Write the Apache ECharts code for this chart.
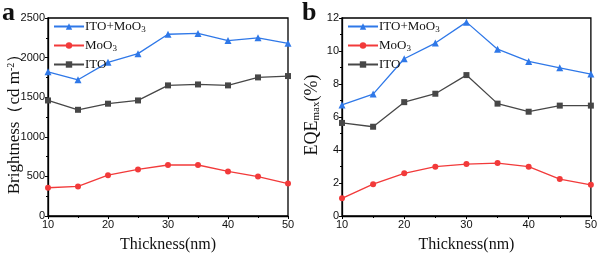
<!DOCTYPE html>
<html><head><meta charset="utf-8">
<script src="https://cdn.jsdelivr.net/npm/echarts@6/dist/echarts.min.js"></script>
<style>html,body{margin:0;padding:0;background:#fff}#c{width:600px;height:258px}</style>
</head><body><div id="c"></div>
<script>
const thickness = [10, 15, 20, 25, 30, 35, 40, 45, 50];
const brightItoMoo3 = [1820, 1720, 1940, 2050, 2295, 2305, 2215, 2250, 2180];
const brightMoo3 = [357, 373, 515, 588, 644, 644, 563, 498, 409];
const brightIto = [1459, 1341, 1418, 1459, 1649, 1661, 1649, 1750, 1767];
const eqeItoMoo3 = [6.73, 7.39, 9.53, 10.48, 11.75, 10.11, 9.37, 8.98, 8.6];
const eqeMoo3 = [1.07, 1.93, 2.59, 2.99, 3.15, 3.21, 2.99, 2.24, 1.89];
const eqeIto = [5.64, 5.41, 6.9, 7.41, 8.54, 6.81, 6.32, 6.69, 6.69];
const seriesNames = ['ITO+MoO3', 'MoO3', 'ITO'];

const colors = {'ITO+MoO3': '#2f78e8', 'MoO3': '#f23a3a', 'ITO': '#474747'};
const symbols = {'ITO+MoO3': 'triangle', 'MoO3': 'circle', 'ITO': 'rect'};
const symSize = {'ITO+MoO3': 7, 'MoO3': 6, 'ITO': 6};
const serif = '"Liberation Serif","Times New Roman",serif';
const sans = '"Liberation Sans",Arial,sans-serif';

function pairs(arr){ return thickness.map((t,i)=>[t, arr[i]]); }
function mkSeries(name, arr, idx){
  return {name, type:'line', xAxisIndex:idx, yAxisIndex:idx, data:pairs(arr),
    symbol:symbols[name], symbolSize:symSize[name], showSymbol:true,
    lineStyle:{color:colors[name], width:1.3}, itemStyle:{color:colors[name]},
    animation:false};
}
const legendRich = {s:{fontFamily:serif, fontSize:9, verticalAlign:'bottom', padding:[6,0,0,0], color:'#111'}};
function legendFmt(n){ return n.replace('MoO3','MoO{s|3}'); }
function mkLegend(idx, left){
  return {data:seriesNames, orient:'vertical', left:left, top:15, itemGap:5,
    itemWidth:30, itemHeight:8, formatter:legendFmt,
    textStyle:{fontFamily:serif, fontSize:13, color:'#111', rich:legendRich, padding:[0,0,0,-4]},
    selectedMode:false};
}
function xAx(idx){
  return {type:'value', gridIndex:idx, min:10, max:50, interval:10,
    name:'Thickness(nm)', nameLocation:'middle', nameGap:21,
    nameTextStyle:{fontFamily:serif, fontSize:16, color:'#111'},
    axisLine:{lineStyle:{color:'#000', width:1.3}},
    axisTick:{inside:false, length:3, lineStyle:{color:'#000'}},
    minorTick:{show:true, splitNumber:2, length:2, lineStyle:{color:'#000'}},
    axisLabel:{fontFamily:sans, fontSize:11, color:'#111', margin:3},
    splitLine:{show:false}};
}
function yAx(idx, max, interval){
  return {type:'value', gridIndex:idx, min:0, max:max, interval:interval,
    axisLine:{show:true, lineStyle:{color:'#000', width:1.3}},
    axisTick:{show:true, inside:false, length:3, lineStyle:{color:'#000'}},
    minorTick:{show:true, splitNumber:2, length:2, lineStyle:{color:'#000'}},
    axisLabel:{fontFamily:sans, fontSize:11, color:'#111', margin:3, formatter:v=>String(v)},
    splitLine:{show:false}};
}
const chart = echarts.init(document.getElementById('c'), null, {renderer:'canvas'});
chart.setOption({
  backgroundColor:'#fff',
  animation:false,
  grid:[
    {left:48, right:312, top:18, bottom:34, show:true, borderColor:'#000', borderWidth:1.3},
    {left:342, right:7, top:18, bottom:34, show:true, borderColor:'#000', borderWidth:1.3}
  ],
  xAxis:[xAx(0), xAx(1)],
  yAxis:[yAx(0, 2500, 500), yAx(1, 12, 2)],
  legend:[mkLegend(0, 48), mkLegend(1, 342)],
  series:[
    mkSeries('ITO+MoO3', brightItoMoo3, 0),
    mkSeries('MoO3', brightMoo3, 0),
    mkSeries('ITO', brightIto, 0),
    mkSeries('ITO+MoO3', eqeItoMoo3, 1),
    mkSeries('MoO3', eqeMoo3, 1),
    mkSeries('ITO', eqeIto, 1)
  ],
  graphic:[
    {type:'text', left:2, top:0, style:{text:'a', font:'bold 26px '+serif, fill:'#111'}},
    {type:'text', left:302, top:0, style:{text:'b', font:'bold 26px '+serif, fill:'#111'}},
    {type:'text', x:15, y:120, rotation:Math.PI/2,
      style:{text:'Brightness（cd m{sup|-2}）', fontFamily:serif, fontSize:17, fill:'#111',
        align:'center', verticalAlign:'middle',
        rich:{sup:{fontFamily:serif, fontSize:10, verticalAlign:'top', padding:[0,0,8,0], fill:'#111'}}}},
    {type:'text', x:312, y:115, rotation:Math.PI/2,
      style:{text:'EQE{sub|max}(%)', fontFamily:serif, fontSize:18, fill:'#111',
        align:'center', verticalAlign:'middle',
        rich:{sub:{fontFamily:serif, fontSize:11, verticalAlign:'bottom', padding:[9,0,0,0], fill:'#111'}}}}
  ]
});
</script></body></html>
